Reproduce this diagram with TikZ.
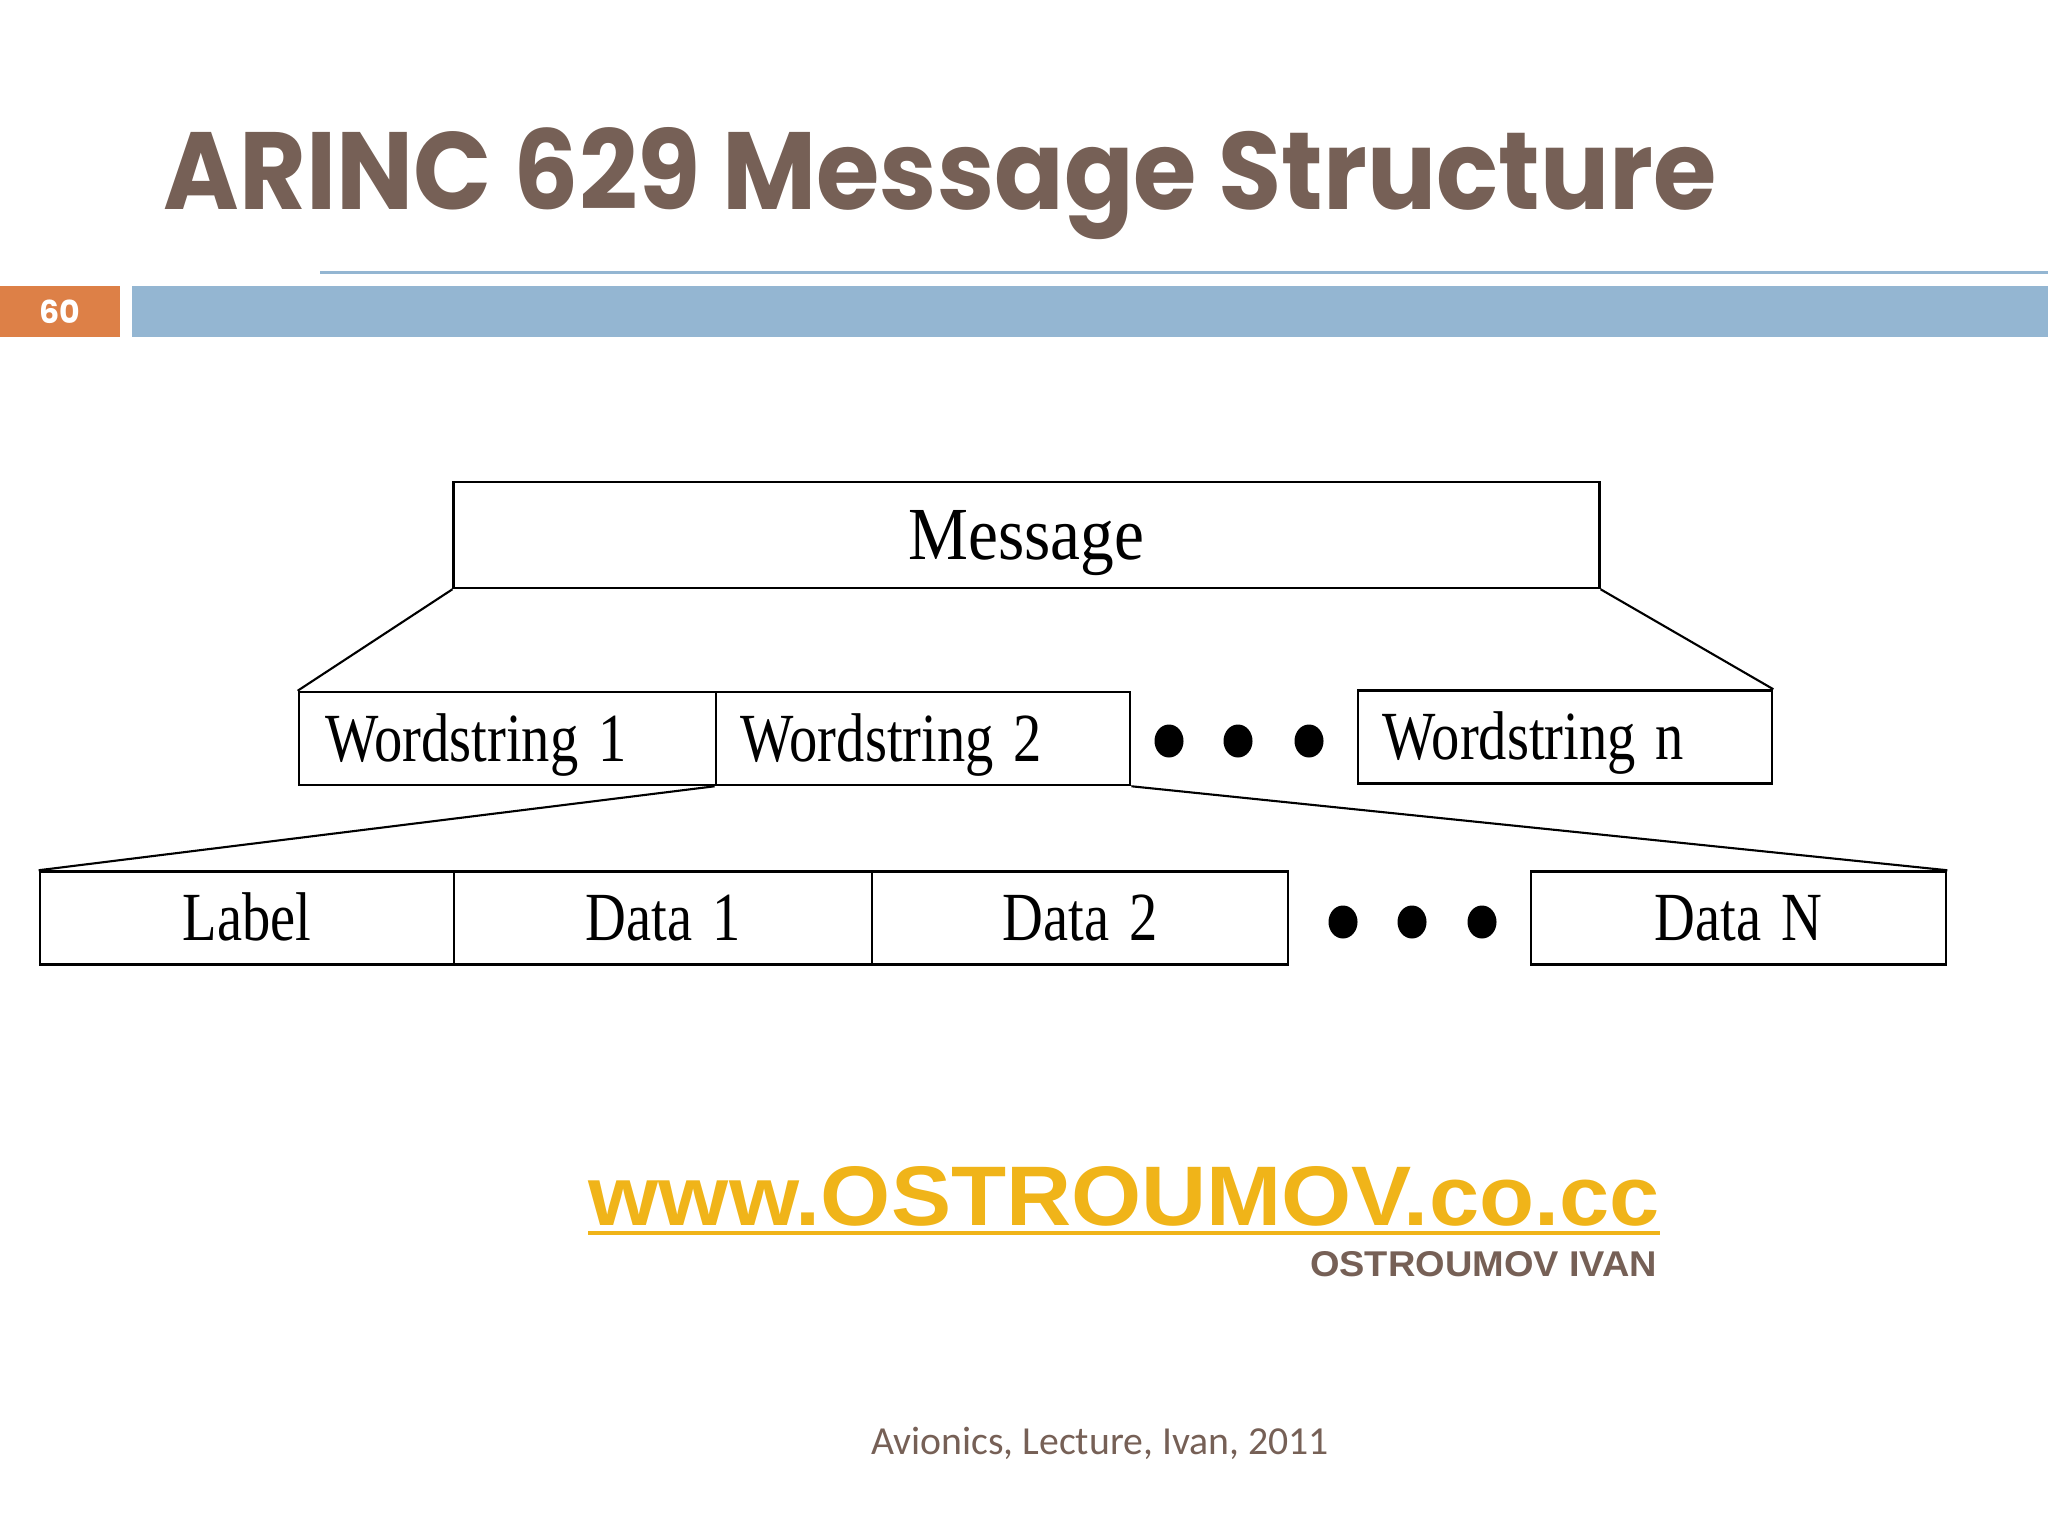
\documentclass[tikz,border=0pt]{standalone}
\usepackage{graphicx}
\usepackage{fontspec}
\setmainfont{Liberation Serif}
\newfontfamily\titlefont{Poppins}
\newfontfamily\cellfont{Liberation Serif}[FakeStretch=0.82,WordSpace=1.4]
\newfontfamily\msgfont{Liberation Serif}[FakeStretch=0.9]
\newfontfamily\urlfont{Liberation Sans}
\newfontfamily\footfont{Carlito}
\usetikzlibrary{shapes.geometric,positioning}

\definecolor{slidebrown}{RGB}{118,96,86}
\definecolor{barblue}{RGB}{148,182,210}
\definecolor{numorange}{RGB}{221,128,71}
\definecolor{urlgold}{RGB}{240,180,25}

\tikzset{
  cell/.style={draw, line width=0.7pt, minimum height=0.93cm, inner sep=0pt,
    text height=13pt, text depth=0pt, font=\cellfont\fontsize{19.6}{20}\selectfont},
  datacell/.style={cell, align=center},
  wscell/.style={cell, text width=3.64cm, align=flush left, inner xsep=0.25cm},
  bullet/.style={ellipse, fill, inner sep=0pt, minimum width=0.29cm, minimum height=0.33cm},
  link/.style={line width=0.6pt}
}

\begin{document}
\begin{tikzpicture}[x=0.01cm,y=-0.01cm]
  \useasboundingbox (0,0) rectangle (2048,1536);

  % slide header
  \node[anchor=base west, inner sep=0pt, text=slidebrown] (title) at (163,209)
    {\resizebox{15.52cm}{0.82cm}{\titlefont\bfseries ARINC 629 Message Structure}};
  \draw[barblue, line width=0.85pt] (320,272) -- (2048,272);
  \node[fill=numorange, text=white, minimum width=1.2cm, minimum height=0.51cm, inner sep=0pt,
    font=\titlefont\bfseries\fontsize{9}{10}\selectfont] (pagenum) at (60,311.5) {60};
  \fill[barblue] (132,286) rectangle (2048,337);

  % message
  \node[cell, minimum width=11.45cm, minimum height=1.06cm, text height=14.1pt,
    font=\msgfont\fontsize{21.3}{22}\selectfont] (msg) at (1026.5,535) {Message};

  % wordstrings
  \node[wscell, minimum width=4.17cm] (ws1) at (507.5,738.5) {Wordstring 1};
  \node[wscell, minimum width=4.14cm] (ws2) at (923,738.5) {Wordstring 2};
  \foreach \x [count=\i] in {1169,1238,1309}
    \node[bullet] (wdot\i) at (\x,741) {};
  \node[wscell, minimum width=4.14cm] (wsn) at (1565,737) {Wordstring n};

  % words of one wordstring
  \node[datacell, minimum width=4.14cm] (lbl) at (247,918) {Label};
  \node[datacell, minimum width=4.18cm] (dat1) at (663,918) {Data 1};
  \node[datacell, minimum width=4.16cm] (dat2) at (1080,918) {Data 2};
  \foreach \x [count=\i] in {1343,1412,1482}
    \node[bullet] (ddot\i) at (\x,922) {};
  \node[datacell, minimum width=4.15cm] (datn) at (1738.5,918) {Data N};

  \draw[link] (msg.south west) -- (ws1.north west);
  \draw[link] (msg.south east) -- (wsn.north east);
  \draw[link] (ws2.south west) -- (lbl.north west);
  \draw[link] (ws2.south east) -- (datn.north east);

  % footer
  \node[anchor=base west, inner sep=0pt, text=urlgold] (url) at (588,1225)
    {\resizebox{10.7cm}{0.59cm}{\urlfont\bfseries www.OSTROUMOV.co.cc}};
  \draw[urlgold, line width=1.4pt] ([yshift=-0.08cm]url.base west) -- ([yshift=-0.08cm]url.base east);
  \node[anchor=base east, inner sep=0pt, text=slidebrown] (author) at (1658,1276)
    {\resizebox{3.47cm}{0.25cm}{\urlfont\bfseries OSTROUMOV IVAN}};
  \node[anchor=base, inner sep=0pt, text=slidebrown, font=\footfont\fontsize{11.3}{13}\selectfont]
    (lecture) at (1100,1454) {Avionics, Lecture, Ivan, 2011};
\end{tikzpicture}
\end{document}
